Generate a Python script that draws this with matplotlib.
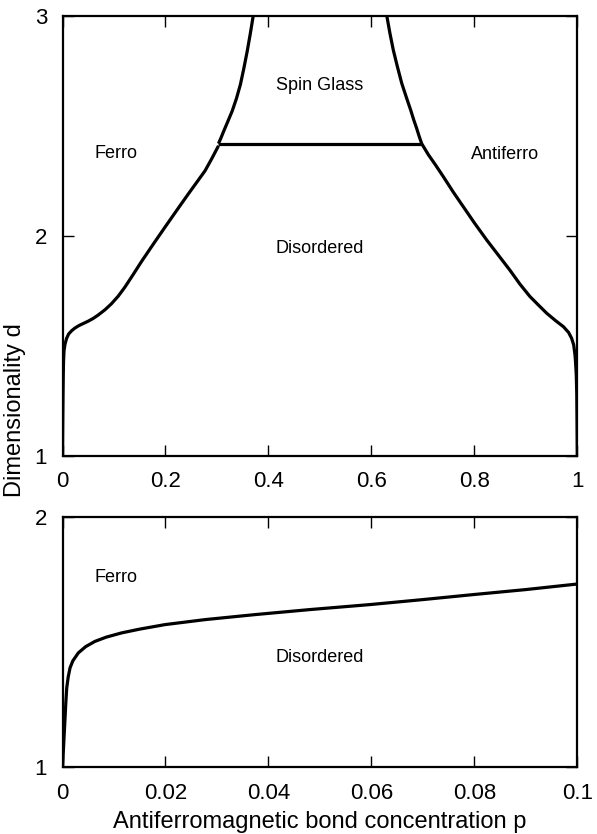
import matplotlib.pyplot as plt
import numpy as np

plt.rcParams['font.family'] = ['Liberation Sans', 'DejaVu Sans']

# upper panel: Ferro / Disordered boundary (left)
ferro_p = [0.0, 0.0005, 0.001, 0.0015, 0.002, 0.003, 0.005, 0.008, 0.012, 0.018,
           0.0243, 0.032, 0.040, 0.050, 0.060, 0.070, 0.0826, 0.095, 0.108, 0.121,
           0.137, 0.154, 0.176, 0.199, 0.222, 0.244, 0.261, 0.277, 0.290, 0.303]
ferro_d = [1.0, 1.15, 1.28, 1.37, 1.43, 1.48, 1.51, 1.535, 1.555, 1.57,
           1.582, 1.593, 1.602, 1.613, 1.626, 1.642, 1.665, 1.692, 1.726, 1.767,
           1.824, 1.886, 1.962, 2.04, 2.117, 2.19, 2.245, 2.297, 2.352, 2.41]

# upper panel: Antiferro / Disordered boundary (right)
afm_p = [1.0, 0.9995, 0.999, 0.998, 0.9965, 0.9955, 0.993, 0.989, 0.983, 0.973,
         0.958, 0.9406, 0.925, 0.908, 0.889, 0.869, 0.847, 0.824, 0.800, 0.7786,
         0.759, 0.7397, 0.724, 0.7106, 0.6977]
afm_d = [1.0, 1.15, 1.28, 1.37, 1.43, 1.46, 1.505, 1.535, 1.562, 1.588,
         1.615, 1.649, 1.685, 1.725, 1.78, 1.845, 1.912, 1.982, 2.06, 2.133,
         2.20, 2.27, 2.325, 2.37, 2.42]

# spin glass boundaries
sg_left_p = [0.303, 0.308, 0.3132, 0.321, 0.3296, 0.338, 0.3457, 0.3525, 0.3588, 0.3648, 0.3704]
sg_left_d = [2.42, 2.447, 2.477, 2.52, 2.568, 2.626, 2.69, 2.765, 2.84, 2.92, 3.0]
sg_right_p = [0.6977, 0.693, 0.688, 0.682, 0.6764, 0.668, 0.659, 0.6505, 0.6426, 0.636, 0.630]
sg_right_d = [2.42, 2.452, 2.489, 2.53, 2.572, 2.63, 2.694, 2.77, 2.845, 2.922, 3.0]

# horizontal spin glass line
sg_line_p = [0.303, 0.6977]
sg_line_d = [2.42, 2.42]

# lower panel: zoom on small p
low_p = [0.0, 0.0001, 0.0002, 0.0003, 0.0005, 0.00065, 0.00082, 0.0011, 0.00146, 0.002,
         0.00307, 0.0045, 0.0063, 0.0085, 0.0115, 0.015, 0.0199, 0.0277, 0.0374, 0.048,
         0.0597, 0.070, 0.0798, 0.090, 0.0999]
low_d = [1.0, 1.04, 1.08, 1.12, 1.2, 1.26, 1.317, 1.36, 1.397, 1.425,
         1.457, 1.482, 1.503, 1.52, 1.537, 1.552, 1.57, 1.59, 1.61, 1.63,
         1.65, 1.67, 1.69, 1.71, 1.732]

top_xticks = [0, 0.2, 0.4, 0.6, 0.8, 1]
top_xticklabels = ['0', '0.2', '0.4', '0.6', '0.8', '1']
bot_xticks = [0, 0.02, 0.04, 0.06, 0.08, 0.1]
bot_xticklabels = ['0', '0.02', '0.04', '0.06', '0.08', '0.1']

LW = 2.3


def style_axes(ax):
    for s in ax.spines.values():
        s.set_linewidth(1.6)
    ax.tick_params(direction='in', top=True, right=True, length=8, width=1,
                   labelsize=16, pad=11)


def boundary(ax, p, d):
    ax.plot(p, d, color='black', lw=LW, solid_joinstyle='round', solid_capstyle='butt')


fig = plt.figure(figsize=(5.97, 8.34), dpi=100)
ax1 = fig.add_axes([0.1047, 0.4532, 0.8623, 0.5276])
ax2 = fig.add_axes([0.1047, 0.0800, 0.8623, 0.3001])

boundary(ax1, ferro_p, ferro_d)
boundary(ax1, afm_p, afm_d)
boundary(ax1, sg_left_p, sg_left_d)
boundary(ax1, sg_right_p, sg_right_d)
boundary(ax1, sg_line_p, sg_line_d)
ax1.set_xlim(0, 1)
ax1.set_ylim(1, 3)
ax1.set_xticks(top_xticks)
ax1.set_xticklabels(top_xticklabels)
ax1.set_yticks([1, 2, 3])
ax1.set_yticklabels(['1', '2', '3'])
style_axes(ax1)

ax1.text(0.103, 2.373, 'Ferro', fontsize=13, ha='center', va='center')
ax1.text(0.86, 2.37, 'Antiferro', fontsize=13, ha='center', va='center')
ax1.text(0.5, 2.686, 'Spin Glass', fontsize=13, ha='center', va='center')
ax1.text(0.5, 1.945, 'Disordered', fontsize=13, ha='center', va='center')

boundary(ax2, low_p, low_d)
ax2.set_xlim(0, 0.1)
ax2.set_ylim(1, 2)
ax2.set_xticks(bot_xticks)
ax2.set_xticklabels(bot_xticklabels)
ax2.set_yticks([1, 2])
ax2.set_yticklabels(['1', '2'])
style_axes(ax2)

ax2.text(0.0103, 1.758, 'Ferro', fontsize=13, ha='center', va='center')
ax2.text(0.05, 1.44, 'Disordered', fontsize=13, ha='center', va='center')

fig.text(320 / 597, 6 / 834, 'Antiferromagnetic bond concentration p', fontsize=17,
         ha='center', va='baseline')
fig.text(15 / 597, 1 - 497 / 834, 'Dimensionality d', rotation=90, fontsize=17,
         ha='center', va='bottom')

fig.savefig('out.png', dpi=100)
